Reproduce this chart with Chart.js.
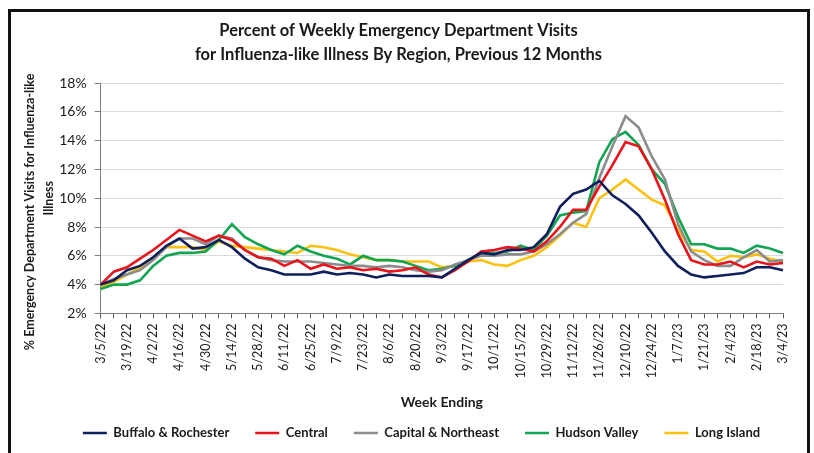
<!DOCTYPE html>
<html>
<head>
<meta charset="utf-8">
<script src="https://cdn.jsdelivr.net/npm/chart.js@4.4.1/dist/chart.umd.min.js"></script>
<style>
  html, body { margin: 0; padding: 0; background: #fff; }
  #wrap { position: relative; width: 814px; height: 453px; overflow: hidden; }
  #frame { position: absolute; left: 8px; top: 9px; width: 796px; height: 460px;
           border: 3px solid #111; pointer-events: none; }
  canvas { position: absolute; left: 0; top: 0; }
</style>
</head>
<body>
<div id="wrap">
  <canvas id="ili" width="814" height="453"></canvas>
  <div id="frame"></div>
</div>
<script>
// week ending dates, 3/5/22 .. 3/4/23
const weeks = [
  '3/5/22','3/12/22','3/19/22','3/26/22','4/2/22','4/9/22','4/16/22','4/23/22','4/30/22',
  '5/7/22','5/14/22','5/21/22','5/28/22','6/4/22','6/11/22','6/18/22','6/25/22','7/2/22',
  '7/9/22','7/16/22','7/23/22','7/30/22','8/6/22','8/13/22','8/20/22','8/27/22','9/3/22',
  '9/10/22','9/17/22','9/24/22','10/1/22','10/8/22','10/15/22','10/22/22','10/29/22','11/5/22',
  '11/12/22','11/19/22','11/26/22','12/3/22','12/10/22','12/17/22','12/24/22','12/31/22','1/7/23',
  '1/14/23','1/21/23','1/28/23','2/4/23','2/11/23','2/18/23','2/25/23','3/4/23'
];

const buffaloRochester = [4.0,4.3,5.0,5.3,5.9,6.7,7.2,6.5,6.6,7.1,6.6,5.8,5.2,5.0,4.7,4.7,4.7,4.9,
  4.7,4.8,4.7,4.5,4.7,4.6,4.6,4.6,4.5,5.1,5.7,6.2,6.1,6.4,6.4,6.6,7.5,9.4,10.3,10.6,11.2,10.2,
  9.6,8.8,7.6,6.3,5.3,4.7,4.5,4.6,4.7,4.8,5.2,5.2,5.0];
const central = [4.0,4.9,5.2,5.8,6.4,7.1,7.8,7.4,7.0,7.4,7.1,6.4,5.9,5.8,5.3,5.7,5.1,5.4,
  5.1,5.2,5.0,5.1,4.9,5.0,5.2,4.7,4.5,5.0,5.6,6.3,6.4,6.6,6.5,6.3,7.0,8.0,9.2,9.2,10.8,12.3,
  13.9,13.6,12.0,9.9,7.5,5.7,5.4,5.4,5.6,5.2,5.6,5.4,5.5];
const capitalNortheast = [4.0,4.4,4.7,5.0,5.7,6.6,7.2,7.2,6.8,7.4,7.2,6.4,5.9,5.7,5.6,5.6,5.6,5.5,
  5.4,5.3,5.3,5.2,5.3,5.2,5.0,4.9,5.0,5.4,5.7,6.0,6.0,6.1,6.1,6.3,6.8,7.5,8.3,8.9,11.4,13.6,
  15.7,14.9,12.9,11.3,8.2,6.3,5.7,5.3,5.3,5.9,6.4,5.6,5.7];
const hudsonValley = [3.7,4.0,4.0,4.3,5.3,6.0,6.2,6.2,6.3,7.1,8.2,7.3,6.8,6.4,6.1,6.7,6.3,6.0,
  5.8,5.4,6.0,5.7,5.7,5.6,5.3,5.0,5.1,5.3,5.7,6.2,6.2,6.3,6.7,6.4,7.4,8.8,9.0,9.1,12.5,14.1,
  14.6,13.7,12.0,11.0,8.7,6.8,6.8,6.5,6.5,6.2,6.7,6.5,6.2];
const longIsland = [3.8,4.2,4.7,5.2,5.9,6.6,6.6,6.6,6.4,7.0,6.7,6.6,6.5,6.4,6.3,6.2,6.7,6.6,
  6.4,6.1,5.9,5.7,5.7,5.6,5.6,5.6,5.2,5.3,5.6,5.7,5.4,5.3,5.7,6.0,6.6,7.4,8.3,8.0,10.0,10.6,
  11.3,10.6,9.9,9.5,7.8,6.4,6.3,5.6,6.0,5.9,6.1,5.8,5.6];

const seriesNames = ['Buffalo & Rochester', 'Central', 'Capital & Northeast', 'Hudson Valley', 'Long Island'];
const seriesColors = ['#0f1f5c', '#e8141b', '#8c8c8c', '#12a551', '#fcc10f'];
const seriesValues = [buffaloRochester, central, capitalNortheast, hudsonValley, longIsland];

const FONT = "Lato, 'Liberation Sans', sans-serif";
const TXT = '#1a1a1a';

// the legend row sits closer to the axis title and a bit right of centre
const legendNudge = {
  id: 'legendNudge',
  afterLayout(chart) {
    const lg = chart.legend;
    lg.top -= 10.5; lg.bottom -= 10.5;
    lg.left += 23; lg.right += 23;
  }
};

new Chart(document.getElementById('ili'), {
  type: 'line',
  data: {
    labels: weeks,
    datasets: seriesNames.map((name, i) => ({
      label: name,
      data: seriesValues[i],
      borderColor: seriesColors[i],
      backgroundColor: seriesColors[i],
      borderWidth: 2.6,
      pointRadius: 0,
      tension: 0
    }))
  },
  options: {
    responsive: false,
    animation: false,
    layout: { padding: { left: 14, right: 31, top: 0, bottom: -7 } },
    plugins: {
      title: {
        display: true,
        text: ['Percent of Weekly Emergency Department Visits',
               'for Influenza-like Illness By Region, Previous 12 Months'],
        color: TXT,
        font: { family: FONT, size: 16.5, weight: 'bold', lineHeight: 24 / 16.5 },
        padding: { top: 19, bottom: 16 }
      },
      legend: {
        position: 'bottom',
        labels: {
          color: TXT,
          font: { family: FONT, size: 13, weight: 'bold' },
          usePointStyle: true,
          pointStyle: 'line',
          pointStyleWidth: 24,
          padding: 26
        }
      },
      tooltip: { enabled: false }
    },
    scales: {
      x: {
        offset: false,
        grid: { drawOnChartArea: false, tickLength: 5, tickColor: '#595959' },
        border: { color: '#7f7f7f' },
        ticks: {
          autoSkip: false,
          minRotation: 90,
          maxRotation: 90,
          padding: 5,
          color: TXT,
          font: { family: FONT, size: 12.5 },
          callback: function (v, i) { return i % 2 === 0 ? this.getLabelForValue(v) : ''; }
        },
        title: {
          display: true,
          text: 'Week Ending',
          color: TXT,
          font: { family: FONT, size: 14, weight: 'bold' },
          padding: { top: 11, bottom: 0 }
        }
      },
      y: {
        min: 2,
        max: 18,
        afterFit: (scale) => { scale.width = 86.7; },
        grid: { color: '#d9d9d9', tickLength: 6, tickColor: '#7f7f7f' },
        border: { color: '#7f7f7f' },
        ticks: {
          stepSize: 2,
          padding: 8,
          color: TXT,
          font: { family: FONT, size: 14 },
          callback: (v) => v + '%'
        },
        title: {
          display: true,
          // trailing spaces push the long line down, as in the original layout
          text: ['% Emergency Department Visits for Influenza-like         ', 'Illness'],
          color: TXT,
          font: { family: FONT, size: 12.5, weight: 'bold', lineHeight: 19 / 12.5 },
          padding: { top: 6.5, bottom: 0 }
        }
      }
    }
  },
  plugins: [legendNudge]
});
</script>
</body>
</html>
